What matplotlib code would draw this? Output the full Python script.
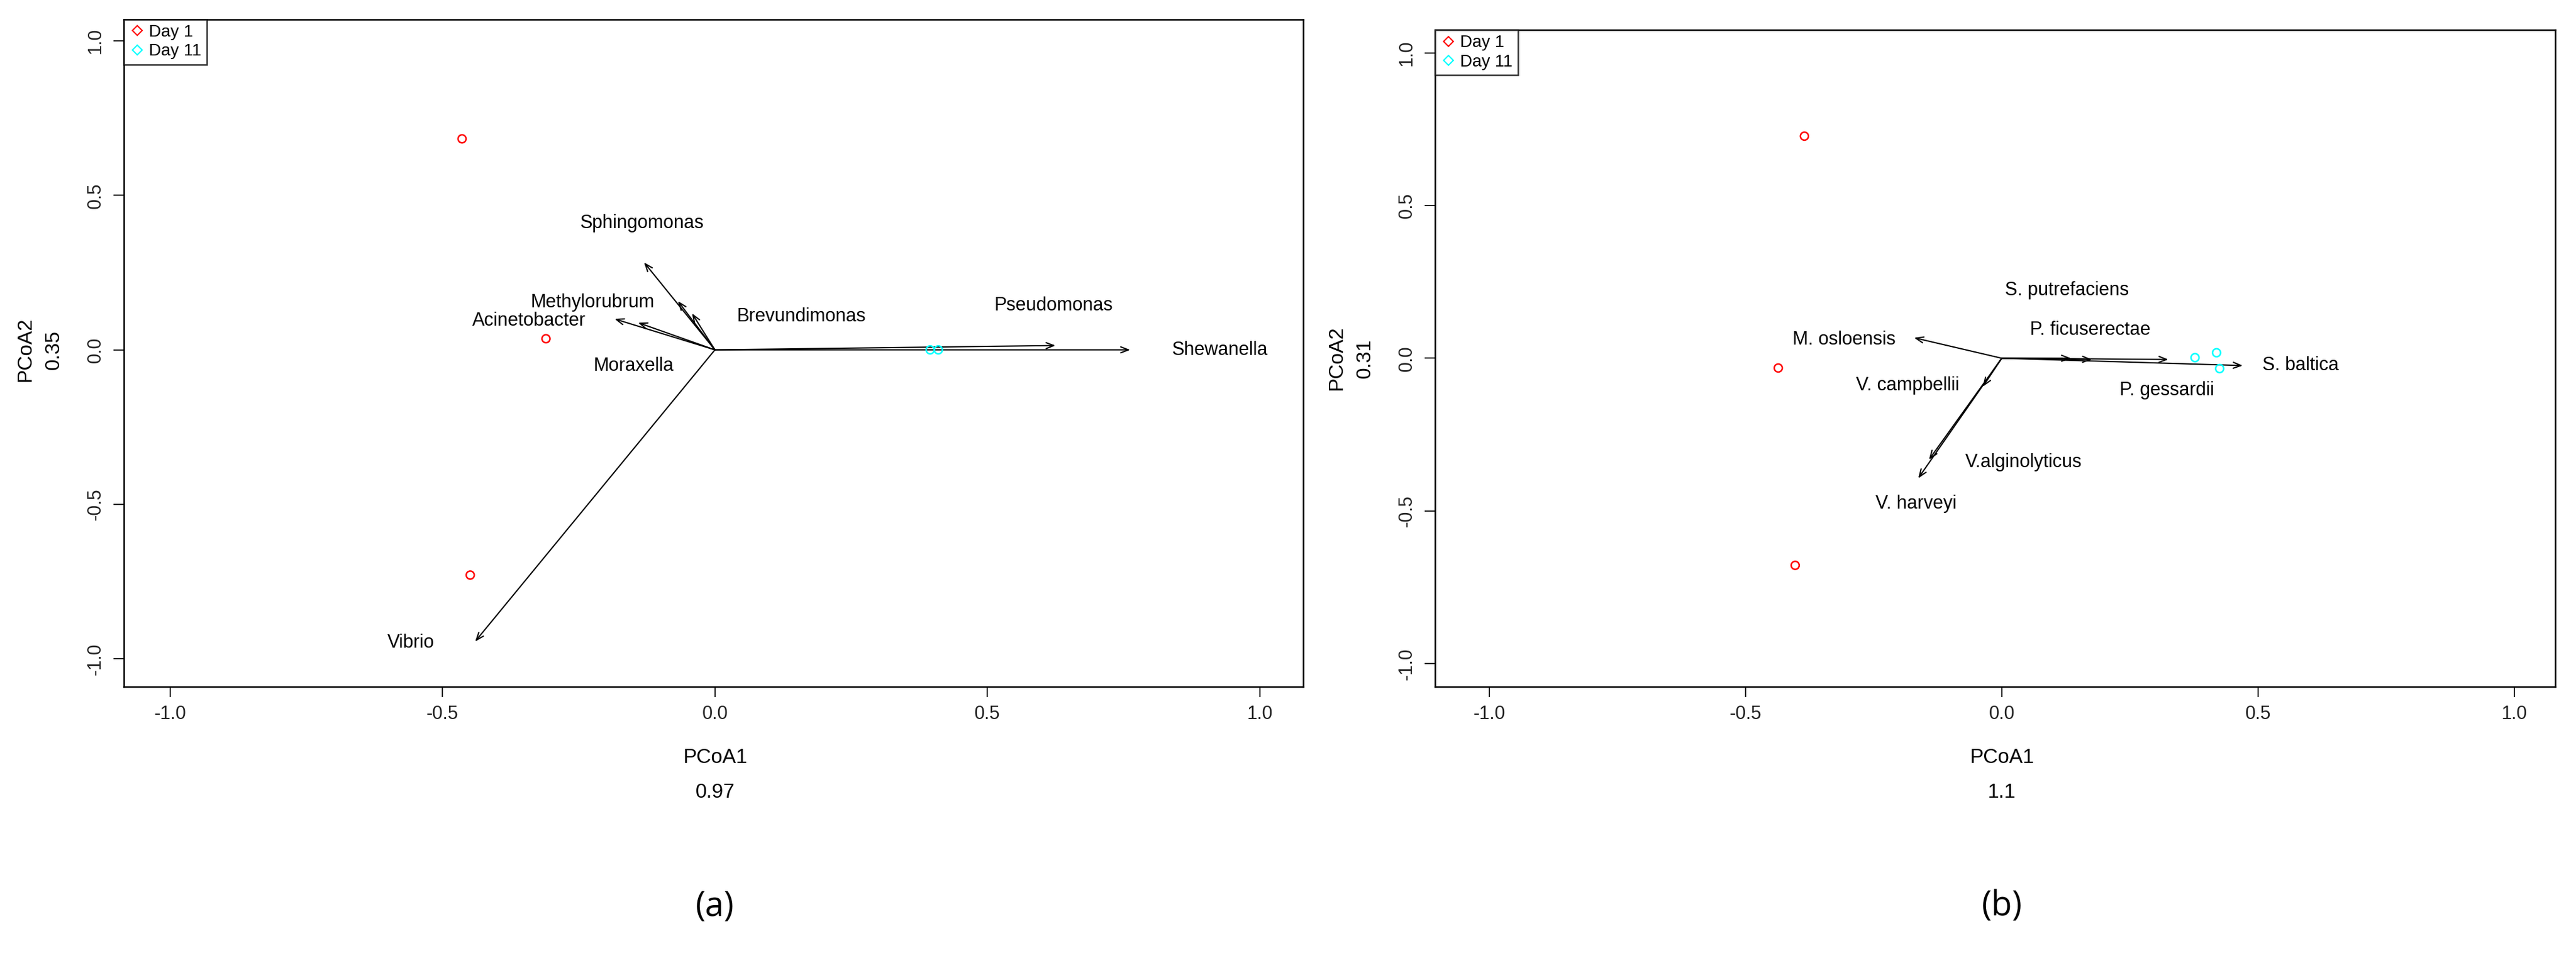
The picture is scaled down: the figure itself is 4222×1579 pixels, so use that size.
import matplotlib
matplotlib.use("Agg")
import matplotlib.pyplot as plt
from matplotlib.lines import Line2D

plt.rcParams['font.family'] = ['Liberation Sans', 'DejaVu Sans']

# Panel (a)
a_day1_x = [-0.464, -0.31, -0.449]
a_day1_y = [0.683, 0.036, -0.729]
a_day11_x = [0.395, 0.41]
a_day11_y = [0.0, 0.0]
a_species = ["Shewanella", "Pseudomonas", "Sphingomonas", "Methylorubrum", "Brevundimonas",
             "Acinetobacter", "Moraxella", "Vibrio"]
a_arrow_x = [0.762, 0.625, -0.13, -0.068, -0.042, -0.184, -0.141, -0.44]
a_arrow_y = [0.0, 0.014, 0.283, 0.158, 0.118, 0.10, 0.088, -0.944]
a_label_x = [0.927, 0.622, -0.134, -0.225, 0.159, -0.341, -0.149, -0.558]
a_label_y = [0.0, 0.144, 0.409, 0.154, 0.108, 0.094, -0.052, -0.948]
a_xlabel = ["PCoA1", "0.97"]
a_ylabel = ["PCoA2", "0.35"]

# Panel (b)
b_day1_x = [-0.385, -0.436, -0.403]
b_day1_y = [0.727, -0.032, -0.678]
b_day11_x = [0.377, 0.419, 0.425]
b_day11_y = [0.002, 0.018, -0.034]
b_species = ["S. baltica", "P. gessardii", "P. ficuserectae", "S. putrefaciens", "M. osloensis",
             "V. campbellii", "V.alginolyticus", "V. harveyi"]
b_arrow_x = [0.47, 0.325, 0.176, 0.135, -0.171, -0.037, -0.142, -0.163]
b_arrow_y = [-0.024, -0.004, -0.004, 0.0, 0.067, -0.093, -0.332, -0.393]
b_label_x = [0.583, 0.322, 0.172, 0.127, -0.308, -0.184, 0.043, -0.167]
b_label_y = [-0.024, -0.105, 0.093, 0.223, 0.061, -0.089, -0.34, -0.476]
b_xlabel = ["PCoA1", "1.1"]
b_ylabel = ["PCoA2", "0.31"]

ticks = [-1.0, -0.5, 0.0, 0.5, 1.0]
tick_labels = ["-1.0", "-0.5", "0.0", "0.5", "1.0"]

fig = plt.figure(figsize=(42.22, 15.79), dpi=100)

def panel(rect, d1x, d1y, d11x, d11y, sp, ax_, ay_, lx, ly, xl, yl, xlim, ylim, cap):
    ax = fig.add_axes(rect)
    ax.set_xlim(*xlim); ax.set_ylim(*ylim)
    for x, y in zip(ax_, ay_):
        ax.annotate("", xy=(x, y), xytext=(0, 0),
                    arrowprops=dict(arrowstyle="->,head_length=0.9,head_width=0.35", color="black", lw=1.5,
                                    shrinkA=0, shrinkB=0))
    for s, x, y in zip(sp, lx, ly):
        ax.text(x, y, s, ha="center", va="center", fontsize=22)
    ax.scatter(d1x, d1y, s=90, facecolors="none", edgecolors="red", linewidths=1.8, zorder=3)
    ax.scatter(d11x, d11y, s=90, facecolors="none", edgecolors="cyan", linewidths=1.8, zorder=3)
    ax.set_xticks(ticks); ax.set_xticklabels(tick_labels)
    ax.set_yticks(ticks); ax.set_yticklabels(tick_labels, rotation=90, va="center")
    ax.tick_params(labelsize=22, length=12, width=1.5, pad=10, colors="#222222")
    for sp_ in ax.spines.values():
        sp_.set_linewidth(1.8)
    handles = [Line2D([], [], marker="D", ls="none", mfc="none", mec="red", ms=8, mew=1.5),
               Line2D([], [], marker="D", ls="none", mfc="none", mec="cyan", ms=8, mew=1.5)]
    leg = ax.legend(handles, ["Day 1", "Day 11"], loc="upper left", fontsize=20, fancybox=False,
                    edgecolor="black", borderaxespad=0, handletextpad=0.2, handlelength=1.0,
                    borderpad=0.3, labelspacing=0.2)
    leg.get_frame().set_linewidth(1.8)
    cx = rect[0] + rect[2] * (0 - xlim[0]) / (xlim[1] - xlim[0])
    fig.text(cx, 0.213, xl[0], ha="center", va="center", fontsize=24)
    fig.text(cx, 0.177, xl[1], ha="center", va="center", fontsize=24)
    cy = rect[1] + rect[3] * (0 - ylim[0]) / (ylim[1] - ylim[0])
    fig.text(rect[0] - 0.038, cy, yl[0], rotation=90, ha="center", va="center", fontsize=24)
    fig.text(rect[0] - 0.027, cy, yl[1], rotation=90, ha="center", va="center", fontsize=24)
    fig.text(cx, 0.058, cap, ha="center", va="center", fontsize=40, family=["Open Sans", "DejaVu Sans"])

panel([0.048, 0.287, 0.458, 0.693], a_day1_x, a_day1_y, a_day11_x, a_day11_y, a_species,
      a_arrow_x, a_arrow_y, a_label_x, a_label_y, a_xlabel, a_ylabel, (-1.085, 1.08), (-1.09, 1.07), "(a)")
panel([0.557, 0.287, 0.435, 0.682], b_day1_x, b_day1_y, b_day11_x, b_day11_y, b_species,
      b_arrow_x, b_arrow_y, b_label_x, b_label_y, b_xlabel, b_ylabel, (-1.106, 1.08), (-1.075, 1.075), "(b)")

fig.savefig("out.png", dpi=100, facecolor="white")
